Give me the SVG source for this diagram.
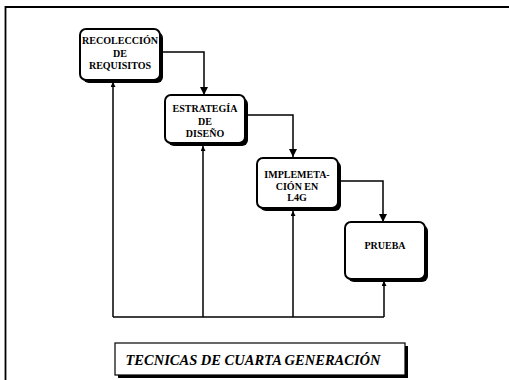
<svg xmlns="http://www.w3.org/2000/svg" width="509" height="380" viewBox="0 0 509 380">
  <style>
    .frame { fill: none; stroke: #000; stroke-width: 1.8; }
    .box { fill: #fff; stroke: #000; stroke-width: 2; }
    .shadow { fill: #000; }
    .lbl { font-family: "Liberation Serif", "Times New Roman", serif; font-weight: bold; font-size: 10px; fill: #000; text-anchor: middle; }
    .title { font-family: "Liberation Serif", "Times New Roman", serif; font-weight: bold; font-style: italic; font-size: 14.5px; fill: #000; text-anchor: middle; }
    .wire { fill: none; stroke: #000; stroke-width: 1.5; }
  </style>
  <defs>
    <marker id="arrow" viewBox="0 0 10 10" refX="10" refY="5" markerWidth="9" markerHeight="8" markerUnits="userSpaceOnUse" orient="auto">
      <path d="M0,0 L10,5 L0,10 z" fill="#000"/>
    </marker>
    <marker id="tip" viewBox="0 0 10 10" refX="10" refY="5" markerWidth="5" markerHeight="5" markerUnits="userSpaceOnUse" orient="auto">
      <path d="M0,0 L10,5 L0,10 z" fill="#000"/>
    </marker>
  </defs>

  <rect width="509" height="380" fill="#fff"/>

  <!-- outer frame: top and left edges -->
  <path class="frame" d="M509,7 H5.5 V380"/>

  <!-- connectors -->
  <g id="connectors">
    <!-- forward flow -->
    <path class="wire" d="M160,52 H204 V95" marker-end="url(#arrow)"/>
    <path class="wire" d="M245,115 H293 V157" marker-end="url(#arrow)"/>
    <path class="wire" d="M338,181 H383 V222" marker-end="url(#arrow)"/>
    <!-- feedback to every stage -->
    <path class="wire" d="M113,317 H384"/>
    <path class="wire" d="M113,317 V82" marker-end="url(#tip)"/>
    <path class="wire" d="M203,317 V146" marker-end="url(#tip)"/>
    <path class="wire" d="M293,317 V211" marker-end="url(#tip)"/>
    <path class="wire" d="M384,317 V281" marker-end="url(#tip)"/>
  </g>

  <g id="recoleccion">
    <rect class="shadow" x="83" y="32" width="80" height="51" rx="6"/>
    <rect class="box" x="80" y="29" width="80" height="51" rx="6"/>
    <text class="lbl" x="120" y="44" textLength="76" lengthAdjust="spacingAndGlyphs">RECOLECCIÓN</text>
    <text class="lbl" x="120" y="57">DE</text>
    <text class="lbl" x="120" y="69">REQUISITOS</text>
  </g>

  <g id="estrategia">
    <rect class="shadow" x="168" y="98" width="80" height="48" rx="6"/>
    <rect class="box" x="165" y="95" width="80" height="48" rx="6"/>
    <text class="lbl" x="205" y="112">ESTRATEGÍA</text>
    <text class="lbl" x="205" y="125">DE</text>
    <text class="lbl" x="205" y="137">DISEÑO</text>
  </g>

  <g id="implementacion">
    <rect class="shadow" x="260" y="161" width="81" height="50" rx="6"/>
    <rect class="box" x="257" y="158" width="81" height="50" rx="6"/>
    <text class="lbl" x="297" y="178">IMPLEMETA-</text>
    <text class="lbl" x="297" y="190">CIÓN EN</text>
    <text class="lbl" x="297" y="201">L4G</text>
  </g>

  <g id="prueba">
    <rect class="shadow" x="348" y="225" width="80" height="57" rx="6"/>
    <rect class="box" x="345" y="222" width="80" height="57" rx="6"/>
    <text class="lbl" x="385" y="249">PRUEBA</text>
  </g>

  <g id="titulo">
    <rect class="shadow" x="118" y="346" width="290" height="32"/>
    <rect x="115" y="343" width="290" height="32" fill="#fff" stroke="#000" stroke-width="1.2"/>
    <text class="title" x="253" y="365">TECNICAS DE CUARTA GENERACIÓN</text>
  </g>
</svg>
